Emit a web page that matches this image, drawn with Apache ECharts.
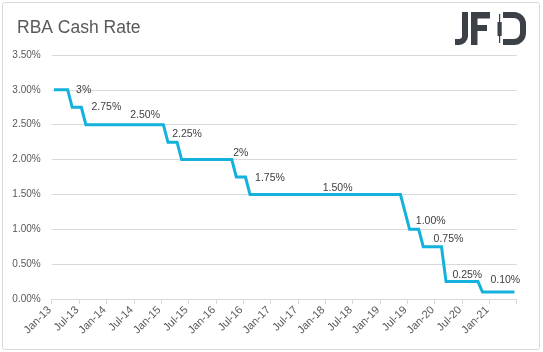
<!DOCTYPE html>
<html>
<head>
<meta charset="utf-8">
<script src="https://cdn.jsdelivr.net/npm/echarts@6/dist/echarts.min.js"></script>
<style>
html,body{margin:0;padding:0;background:#fff;}
#chart{width:543px;height:352px;}
</style>
</head>
<body>
<div id="chart"></div>
<script>
const categories = [
'Jan-13','Feb-13','Mar-13','Apr-13','May-13','Jun-13','Jul-13','Aug-13','Sep-13','Oct-13','Nov-13','Dec-13',
'Jan-14','Feb-14','Mar-14','Apr-14','May-14','Jun-14','Jul-14','Aug-14','Sep-14','Oct-14','Nov-14','Dec-14',
'Jan-15','Feb-15','Mar-15','Apr-15','May-15','Jun-15','Jul-15','Aug-15','Sep-15','Oct-15','Nov-15','Dec-15',
'Jan-16','Feb-16','Mar-16','Apr-16','May-16','Jun-16','Jul-16','Aug-16','Sep-16','Oct-16','Nov-16','Dec-16',
'Jan-17','Feb-17','Mar-17','Apr-17','May-17','Jun-17','Jul-17','Aug-17','Sep-17','Oct-17','Nov-17','Dec-17',
'Jan-18','Feb-18','Mar-18','Apr-18','May-18','Jun-18','Jul-18','Aug-18','Sep-18','Oct-18','Nov-18','Dec-18',
'Jan-19','Feb-19','Mar-19','Apr-19','May-19','Jun-19','Jul-19','Aug-19','Sep-19','Oct-19','Nov-19','Dec-19',
'Jan-20','Feb-20','Mar-20','Apr-20','May-20','Jun-20','Jul-20','Aug-20','Sep-20','Oct-20','Nov-20','Dec-20',
'Jan-21','Feb-21','Mar-21','Apr-21','May-21','Jun-21'
];
const cashRate = [
3.00,3.00,3.00,3.00,2.75,2.75,2.75,2.50,2.50,2.50,2.50,2.50,
2.50,2.50,2.50,2.50,2.50,2.50,2.50,2.50,2.50,2.50,2.50,2.50,
2.50,2.25,2.25,2.25,2.00,2.00,2.00,2.00,2.00,2.00,2.00,2.00,
2.00,2.00,2.00,2.00,1.75,1.75,1.75,1.50,1.50,1.50,1.50,1.50,
1.50,1.50,1.50,1.50,1.50,1.50,1.50,1.50,1.50,1.50,1.50,1.50,
1.50,1.50,1.50,1.50,1.50,1.50,1.50,1.50,1.50,1.50,1.50,1.50,
1.50,1.50,1.50,1.50,1.50,1.25,1.00,1.00,1.00,0.75,0.75,0.75,
0.75,0.75,0.25,0.25,0.25,0.25,0.25,0.25,0.25,0.25,0.10,0.10,
0.10,0.10,0.10,0.10,0.10,0.10
];
const yTicks = [0, 0.5, 1, 1.5, 2, 2.5, 3, 3.5];
const labelIndex = [3, 6, 20, 27, 39, 42, 62, 80, 85, 90, 99];
const labelText = ['3%','2.75%','2.50%','2.25%','2%','1.75%','1.50%','1.00%','0.75%','0.25%','0.10%'];

// label placement (pixel offsets from the anchoring point)
const labelOffsets = [[16,0],[25,0],[0,-10],[10,-8],[9,-6],[24.5,1],[1,-6],[12,-8],[7,-7.5],[3,-6.5],[0,-11.5]];

const seriesData = cashRate.map(function (v, i) {
  const k = labelIndex.indexOf(i);
  if (k < 0) return v;
  return {
    value: v,
    label: {
      show: true,
      formatter: labelText[k],
      position: 'inside',
      offset: labelOffsets[k],
      color: '#404040',
      opacity: 1,
      fontFamily: 'Liberation Sans',
      fontSize: 10.5
    }
  };
});

const chart = echarts.init(document.getElementById('chart'), null, {renderer: 'canvas'});
const logoColor = '#3c4148';
const strokeStyle = {fill: 'none', stroke: logoColor, lineWidth: 6};
chart.setOption({
  animation: false,
  backgroundColor: '#ffffff',
  title: {
    text: 'RBA Cash Rate',
    left: 12,
    top: 14,
    textStyle: {fontFamily: 'Liberation Sans', fontSize: 17.5, fontWeight: 'normal', color: '#595959'}
  },
  graphic: [
    {type: 'rect', shape: {x: 2.5, y: 2.5, width: 537, height: 347, r: 2}, style: {fill: 'none', stroke: '#d9d9d9', lineWidth: 1}, silent: true},
    // J
    {type: 'polyline', shape: {points: [[465, 12], [465, 36.5]]}, style: strokeStyle},
    {type: 'arc', shape: {cx: 459, cy: 36, r: 6, startAngle: 0, endAngle: Math.PI / 2, clockwise: true}, style: strokeStyle},
    {type: 'polyline', shape: {points: [[459.5, 42], [455, 42]]}, style: strokeStyle},
    // F
    {type: 'rect', shape: {x: 471, y: 12, width: 6.5, height: 33}, style: {fill: logoColor}},
    {type: 'rect', shape: {x: 471, y: 12, width: 19, height: 6.5}, style: {fill: logoColor}},
    {type: 'rect', shape: {x: 471, y: 25, width: 16, height: 6}, style: {fill: logoColor}},
    // candle
    {type: 'rect', shape: {x: 499, y: 14, width: 1.2, height: 29}, style: {fill: logoColor}},
    {type: 'rect', shape: {x: 497.5, y: 22, width: 4.2, height: 14}, style: {fill: logoColor}},
    // D
    {type: 'polyline', shape: {points: [[503, 15], [514.5, 15]]}, style: strokeStyle},
    {type: 'arc', shape: {cx: 514, cy: 24, r: 9, startAngle: -Math.PI / 2, endAngle: 0, clockwise: true}, style: strokeStyle},
    {type: 'polyline', shape: {points: [[523, 23.5], [523, 33.5]]}, style: strokeStyle},
    {type: 'arc', shape: {cx: 514, cy: 33, r: 9, startAngle: 0, endAngle: Math.PI / 2, clockwise: true}, style: strokeStyle},
    {type: 'polyline', shape: {points: [[514.5, 42], [503, 42]]}, style: strokeStyle}
  ],
  grid: {left: 51.7, right: 26.3, top: 55, bottom: 53, containLabel: false},
  xAxis: {
    type: 'category',
    data: categories,
    boundaryGap: true,
    axisLine: {show: true, lineStyle: {color: '#d9d9d9', width: 1}},
    axisTick: {show: true, interval: 5, length: 5, lineStyle: {color: '#d9d9d9'}},
    axisLabel: {interval: 5, rotate: 45, margin: 5, padding: [0, 6, 0, 0], color: '#595959', fontFamily: 'Liberation Sans', fontSize: 11},
    splitLine: {show: false}
  },
  yAxis: {
    type: 'value',
    min: yTicks[0],
    max: yTicks[yTicks.length - 1],
    interval: yTicks[1] - yTicks[0],
    axisLine: {show: false},
    axisTick: {show: false},
    axisLabel: {margin: 11, color: '#595959', fontFamily: 'Liberation Sans', fontSize: 10,
      formatter: function (v) { return v.toFixed(2) + '%'; }},
    splitLine: {lineStyle: {color: '#d9d9d9', width: 1}}
  },
  series: [{
    type: 'line',
    data: seriesData,
    smooth: false,
    showSymbol: true,
    showAllSymbol: true,
    symbol: 'circle',
    symbolSize: 1,
    itemStyle: {color: 'rgba(0,0,0,0)'},
    lineStyle: {color: '#14b1dc', width: 3, join: 'miter'},
    label: {show: false},
    emphasis: {disabled: true},
    z: 3
  }]
});
</script>
</body>
</html>
